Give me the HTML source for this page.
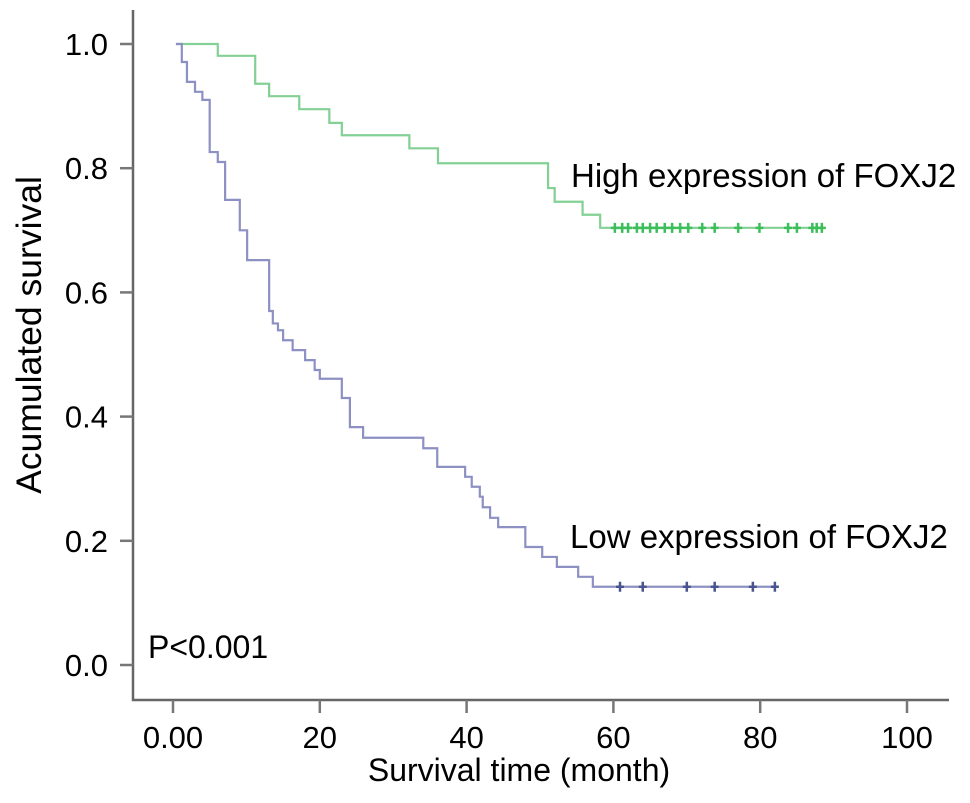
<!DOCTYPE html>
<html><head><meta charset="utf-8"><style>
body{margin:0;background:#fff}
svg{display:block;font-family:"Liberation Sans",Arial,sans-serif}
</style></head><body>
<svg id="chart" width="970" height="803" viewBox="0 0 970 803" xmlns="http://www.w3.org/2000/svg">
<g id="axes"></g><g id="series"></g>
<text transform="translate(41,335) rotate(-90)" text-anchor="middle" font-size="35.5">Acumulated survival</text>
<text x="519" y="781" text-anchor="middle" font-size="32">Survival time (month)</text>
<text x="571" y="187" font-size="33">High expression of FOXJ2</text>
<text x="570" y="548" font-size="33">Low expression of FOXJ2</text>
<text x="148" y="658" font-size="32">P&lt;0.001</text>
</svg>
<script>
const xTicks=[0,20,40,60,80,100];
const xTickLabels=["0.00","20","40","60","80","100"];
const yTicks=[0,0.2,0.4,0.6,0.8,1.0];
const yTickLabels=["0.0","0.2","0.4","0.6","0.8","1.0"];
const highTimes=[0.4,6.1,11.2,13.1,17.2,21.3,23.0,32.2,36.1,51.1,52.0,55.8,58.2];
const highSurv=[1.0,0.981,0.936,0.916,0.895,0.873,0.853,0.832,0.808,0.768,0.746,0.725,0.704];
const highEnd=88.5;
const highCensor=[60.2,61.2,62.0,63.2,64.0,65.0,65.9,67.0,68.0,69.1,70.2,72.1,73.8,77.0,79.9,83.8,85.0,87.1,87.7,88.4];
const lowTimes=[0.4,1.2,1.9,3.0,4.0,5.0,6.1,7.1,9.1,10.1,13.1,13.6,14.3,15.0,16.3,18.0,19.3,20.0,23.0,24.1,25.9,34.1,36.0,39.8,40.7,41.8,42.2,43.2,44.3,48.0,50.3,52.3,55.2,57.2];
const lowSurv=[1.0,0.971,0.939,0.923,0.910,0.826,0.810,0.749,0.700,0.652,0.57,0.55,0.539,0.523,0.507,0.491,0.475,0.461,0.430,0.383,0.366,0.349,0.319,0.303,0.287,0.271,0.254,0.237,0.222,0.190,0.174,0.158,0.142,0.126];
const lowEnd=82.4;
const lowCensor=[60.9,64.0,70.0,73.8,79.0,82.0];

const X=t=>173+t*7.34, Y=s=>665-s*621;
const NS="http://www.w3.org/2000/svg";
function mk(tag,attrs,parent){const e=document.createElementNS(NS,tag);for(const k in attrs)e.setAttribute(k,attrs[k]);parent.appendChild(e);return e;}
const axes=document.getElementById('axes'), ser=document.getElementById('series');
let a=mk('path',{d:'M133,10 L133,700 L949,700',fill:'none',stroke:'#666',"stroke-width":2.5},axes);


xTicks.forEach((t,i)=>{
 const l=mk('line',{x1:X(t),x2:X(t),y1:700,y2:713,stroke:'#777',"stroke-width":2.5},axes);
 
 
 const tx=mk('text',{x:X(t),y:748,"text-anchor":"middle","font-size":31},axes);
 
 
 tx.textContent=xTickLabels[i];
});
yTicks.forEach((v,i)=>{
 const l=mk('line',{x1:120,x2:133,y1:Y(v),y2:Y(v),stroke:'#777',"stroke-width":2.5},axes);
 
 
 const tx=mk('text',{x:108,y:Y(v)+11,"text-anchor":"end","font-size":31},axes);
 
 
 tx.textContent=yTickLabels[i];
});
function curve(times,surv,end,censor,lc,mc,name){
 let d='M'+X(times[0])+','+Y(surv[0]);
 for(let i=1;i<times.length;i++){d+=' H'+X(times[i])+' V'+Y(surv[i]);}
 d+=' H'+X(end);
 const p=mk('path',{d:d,fill:'none',stroke:lc,"stroke-width":2.2},ser);
 
 
 censor.forEach(t=>{
  let s=surv[surv.length-1];
  for(let i=0;i<times.length;i++) if(times[i]<=t) s=surv[i];
  const m=mk('path',{d:`M${X(t)-4},${Y(s)} L${X(t)+4},${Y(s)} M${X(t)},${Y(s)-5} L${X(t)},${Y(s)+5}`,stroke:mc,"stroke-width":2.5},ser);
  
  
 });
}
curve(highTimes,highSurv,highEnd,highCensor,'#82d094','#3cbf5a','high-expression');
curve(lowTimes,lowSurv,lowEnd,lowCensor,'#8d90c2','#4a5590','low-expression');
</script>
</body></html>
